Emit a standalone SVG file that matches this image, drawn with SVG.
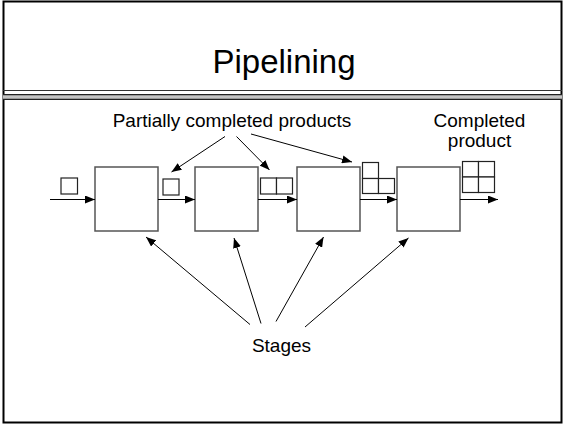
<svg xmlns="http://www.w3.org/2000/svg" width="564" height="424" viewBox="0 0 564 424">
  <style>
    text { font-family: "Liberation Sans", Arial, sans-serif; fill: #000; }
    .label { font-size: 19px; text-anchor: middle; }
    .title { font-size: 33px; text-anchor: middle; }
    .stage { fill: #fff; stroke: #555; stroke-width: 1.5; }
    .part { fill: #fff; stroke: #222; stroke-width: 1.2; }
    .flow { stroke: #000; stroke-width: 1.2; fill: none; marker-end: url(#head); }
    .pointer { stroke: #000; stroke-width: 1; fill: none; marker-end: url(#head); }
  </style>
  <defs>
    <marker id="head" viewBox="0 0 10 8" refX="10" refY="4" markerWidth="10" markerHeight="8" markerUnits="userSpaceOnUse" orient="auto">
      <path d="M0,0 L10,4 L0,8 Z" fill="#000"/>
    </marker>
  </defs>

  <!-- slide frame -->
  <rect x="0" y="0" width="564" height="424" fill="#fff"/>
  <rect x="3.5" y="1.5" width="558" height="421" fill="none" stroke="#000" stroke-width="2"/>
  <line x1="3" y1="90.5" x2="562" y2="90.5" stroke="#333" stroke-width="1"/>
  <rect x="3" y="94" width="559" height="6" fill="#999"/>
  <line x1="3" y1="94.5" x2="562" y2="94.5" stroke="#222" stroke-width="1"/>
  <line x1="3" y1="99.5" x2="562" y2="99.5" stroke="#222" stroke-width="1"/>
  <line x1="3" y1="97" x2="562" y2="97" stroke="#eee" stroke-width="1"/>

  <text class="title" x="284" y="73">Pipelining</text>

  <!-- stages -->
  <g id="stage1"><rect class="stage" x="95" y="167" width="63" height="64"/></g>
  <g id="stage2"><rect class="stage" x="195" y="167" width="63" height="64"/></g>
  <g id="stage3"><rect class="stage" x="297" y="167" width="63" height="64"/></g>
  <g id="stage4"><rect class="stage" x="397" y="167" width="63" height="64"/></g>

  <!-- products between stages -->
  <g id="product0"><rect class="part" x="61" y="178" width="16.5" height="16"/></g>
  <g id="product1"><rect class="part" x="163" y="179" width="16" height="16"/></g>
  <g id="product2">
    <rect class="part" x="260.5" y="178" width="16" height="16"/>
    <rect class="part" x="276.5" y="178" width="16" height="16"/>
  </g>
  <g id="product3">
    <rect class="part" x="362.5" y="162.5" width="16" height="16"/>
    <rect class="part" x="362.5" y="178.5" width="16" height="15"/>
    <rect class="part" x="378.5" y="178.5" width="16" height="15"/>
  </g>
  <g id="product4">
    <rect class="part" x="462.5" y="161.5" width="16" height="15.5"/>
    <rect class="part" x="478.5" y="161.5" width="16" height="15.5"/>
    <rect class="part" x="462.5" y="177" width="16" height="15.5"/>
    <rect class="part" x="478.5" y="177" width="16" height="15.5"/>
  </g>

  <!-- labels -->
  <g id="label-partial"><text class="label" x="232" y="127">Partially completed products</text></g>
  <g id="label-complete">
    <text class="label" x="479.5" y="127">Completed</text>
    <text class="label" x="479.5" y="147">product</text>
  </g>
  <g id="label-stages"><text class="label" x="281.5" y="352">Stages</text></g>

  <!-- connectors -->
  <g id="connectors">
    <line class="flow" x1="50" y1="199.5" x2="95" y2="199.5"/>
    <line class="flow" x1="158" y1="199.5" x2="195" y2="199.5"/>
    <line class="flow" x1="258" y1="199.5" x2="297" y2="199.5"/>
    <line class="flow" x1="360" y1="199.5" x2="397" y2="199.5"/>
    <line class="flow" x1="460" y1="199.5" x2="498" y2="199.5"/>

    <line class="pointer" x1="225" y1="136.5" x2="171.5" y2="172"/>
    <line class="pointer" x1="236.5" y1="136.5" x2="269.5" y2="170"/>
    <line class="pointer" x1="251" y1="134" x2="352" y2="162"/>

    <line class="pointer" x1="250" y1="324.5" x2="146" y2="237"/>
    <line class="pointer" x1="261" y1="323.5" x2="234" y2="238"/>
    <line class="pointer" x1="276" y1="321.5" x2="323.5" y2="237"/>
    <line class="pointer" x1="305" y1="327" x2="408.5" y2="238"/>
  </g>
</svg>
